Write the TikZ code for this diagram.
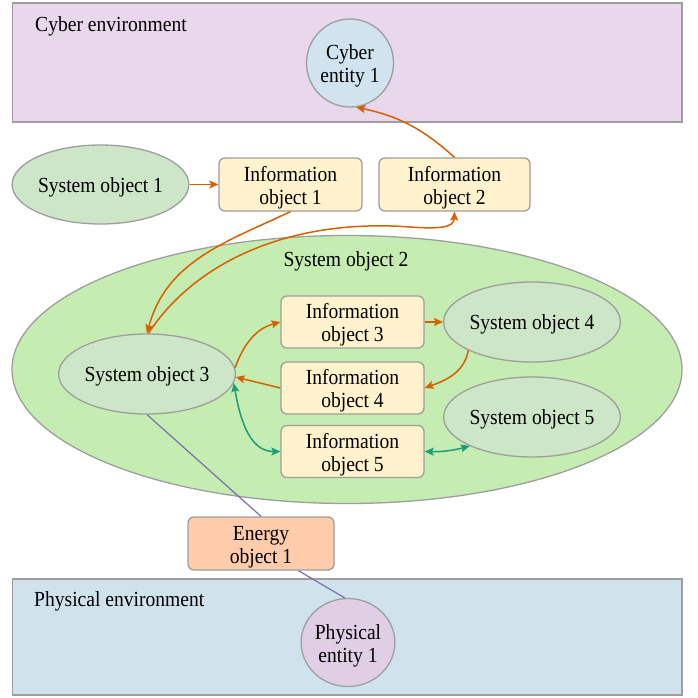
\documentclass[tikz,border=0pt]{standalone}
\usepackage{fontspec}
\setmainfont{Liberation Serif}[FakeStretch=0.91]
\usetikzlibrary{arrows.meta,shapes.geometric}

\definecolor{cyberbg}{RGB}{233,215,235}
\definecolor{physbg}{RGB}{208,227,237}
\definecolor{entblue}{RGB}{208,227,238}
\definecolor{entpurple}{RGB}{224,206,228}
\definecolor{sysfill}{RGB}{204,230,199}
\definecolor{sysbig}{RGB}{197,237,178}
\definecolor{infofill}{RGB}{255,242,204}
\definecolor{energyfill}{RGB}{254,204,170}
\definecolor{edgegray}{RGB}{158,158,158}
\definecolor{infoflow}{RGB}{217,95,2}
\definecolor{bidiflow}{RGB}{27,158,119}
\definecolor{energyflow}{RGB}{117,112,179}

% a taller first line sets a two-line label a little lower in its shape
\newcommand{\tallline}{\rule{0pt}{21pt}}

\tikzset{
  flowtip/.tip={Stealth[length=9pt,width=8pt,inset=1.8pt]},
  lbl/.style={font=\fontsize{21.5}{23}\selectfont},
  lowtext/.style={lbl, execute at begin node={\rule{0pt}{20pt}}},
  envbox/.style={rectangle, draw=edgegray, line width=1.3pt, inner sep=0pt},
  sysobj/.style={ellipse, draw=edgegray, line width=1.3pt, fill=sysfill,
    inner sep=0pt, lowtext, align=center},
  entity/.style={ellipse, draw=edgegray, line width=1.3pt, inner sep=0pt,
    lbl, align=center, minimum width=87, minimum height=88},
  infobox/.style={rectangle, rounded corners=6pt, draw=edgegray, line width=1.3pt,
    fill=infofill, inner sep=0pt, lbl, align=center, minimum height=53},
  infoarrow/.style={draw=infoflow, line width=1.5pt, -{flowtip}},
  linkarrow/.style={draw=bidiflow, line width=1.5pt, {flowtip}-{flowtip}},
  energyline/.style={draw=energyflow, line width=1.2pt},
}

\begin{document}
\begin{tikzpicture}[x=1pt,y=-1pt]
\useasboundingbox (0,0) rectangle (697,698);

% environments
\node[envbox, fill=cyberbg, minimum width=669.5, minimum height=119] (cyberenv) at (347.25,62.5) {};
\node[lbl, anchor=base west, inner sep=0pt] (cyberlabel) at (35,32) {Cyber environment};
\node[envbox, fill=physbg, minimum width=669.5, minimum height=116] (physenv) at (347.25,637) {};
\node[lbl, anchor=base west, inner sep=0pt] (physlabel) at (34,606) {Physical environment};

% entities
\node[entity, fill=entblue] (ce) at (350,63) {\tallline Cyber\\entity 1};
\node[entity, fill=entpurple] (pe) at (348,642.5) {\tallline Physical\\entity 1};

% system object 2 and its content
\node[ellipse, draw=edgegray, line width=1.3pt, fill=sysbig, inner sep=0pt,
      minimum width=670, minimum height=268] (so2) at (347,369.5) {};
\node[lbl, anchor=base] (so2label) at (346,266) {System object 2};

\node[sysobj, minimum width=176, minimum height=79] (so1) at (100.5,184.5) {System object 1};
\node[sysobj, minimum width=174, minimum height=80] (so3) at (147,374) {System object 3};
\node[sysobj, minimum width=176, minimum height=80] (so4) at (532,322) {System object 4};
\node[sysobj, minimum width=176, minimum height=80] (so5) at (532,417) {System object 5};

\node[infobox, minimum width=143] (io1) at (290.5,184.5) {\tallline Information\\object 1};
\node[infobox, minimum width=151] (io2) at (454.5,184.5) {\tallline Information\\object 2};
\node[infobox, minimum width=143, minimum height=52] (io3) at (352.5,322) {\tallline Information\\object 3};
\node[infobox, minimum width=143, minimum height=52] (io4) at (352.5,388) {\tallline Information\\object 4};
\node[infobox, minimum width=143, minimum height=52] (io5) at (352.5,451.5) {\tallline Information\\object 5};

\node[infobox, fill=energyfill, minimum width=146] (eo) at (261,543.5) {\tallline Energy\\object 1};

% information flows
\draw[infoarrow] (so1) -- (io1.west);
\draw[infoarrow] (io2.north) to[bend right=15] (ce.-82);
\draw[infoarrow] (io1.south) to[out=-155,in=75] (so3.north);
\draw[infoarrow] (so3.88) .. controls (195,262) and (290,218) .. (410,227)
                          .. controls (438,229) and (454,228) .. (io2.south);
\draw[infoarrow] (so3.4) to[out=70,in=195] (io3.west);
\draw[infoarrow] (io4.west) -- (so3.-2);
\draw[infoarrow] (io3.east) -- (so4.west);
\draw[infoarrow] (so4.-156) to[out=-100,in=20] (io4.east);

% bidirectional links
\draw[linkarrow] (so3.-6) to[out=-80,in=180] (io5.west);
\draw[linkarrow] (io5.east) to[bend right=8] (so5.-155);

% energy path
\draw[energyline] (so3.south) -- (eo.north);
\draw[energyline] (eo.-36) -- (pe.94);
\end{tikzpicture}
\end{document}
